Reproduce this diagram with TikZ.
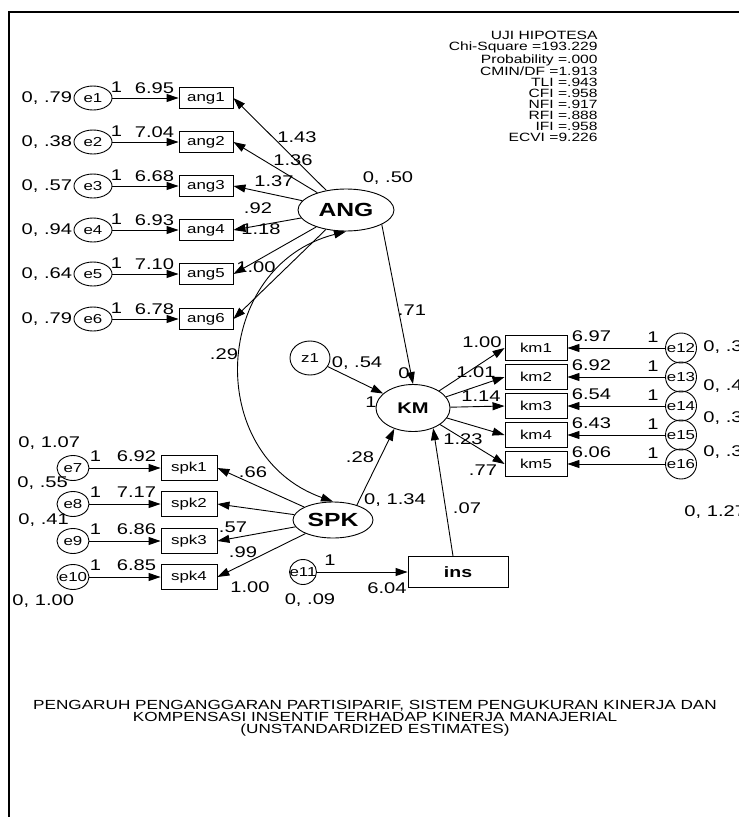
\documentclass[tikz,border=0pt]{standalone}
\usepackage{fontspec}
\setmainfont{Liberation Sans}[FakeStretch=1.3]
\usetikzlibrary{positioning, arrows.meta, shapes.geometric, calc}

\begin{document}
\begin{tikzpicture}[
		x=1pt, y=-1pt,
		>={Triangle[length=12pt, width=8pt]},
		line width=0.9pt,
		% Style for the observed indicators
		indicator/.style={
			draw, rectangle, inner sep=0pt, minimum width=54pt, minimum height=21pt,
			font=\fontsize{13}{13}\selectfont
		},
		% Style for the error terms
		errterm/.style={
			draw, ellipse, inner sep=0pt, minimum width=38pt, minimum height=24pt,
			font=\fontsize{13}{13}\selectfont
		},
		% Style for the latent constructs
		latent/.style={draw, ellipse, fill=white, inner sep=0pt},
		% Style for the estimates
		estimate/.style={inner sep=0pt, font=\fontsize{15.5}{15.5}\selectfont},
		% Style for the notes
		note/.style={inner sep=0pt, align=center, font=\fontsize{13.2}{12}\selectfont}
		]
		
		\useasboundingbox (0,0) rectangle (739,817);
		\clip (0,0) rectangle (739,817);
		\draw[line width=2pt] (9,817) -- (9,12) -- (739,12);
		
		% ==========================================
		% 1. FIT INDICES
		% ==========================================
		\node[note, align=right, anchor=north east, font=\fontsize{12}{11}\selectfont] (fit) at (598,31) {
			UJI HIPOTESA\\ Chi-Square =193.229\\ Probability =.000\\ CMIN/DF =1.913\\ TLI =.943\\
			CFI =.958\\ NFI =.917\\ RFI =.888\\ IFI =.958\\ ECVI =9.226
		};
		
		% ==========================================
		% 2. ANG and its indicators
		% ==========================================
		\node[latent, minimum width=96pt, minimum height=42pt, font=\bfseries\fontsize{19}{19}\selectfont] (ANG) at (346,210) {ANG};
		\node[estimate] (ANG-var) at (388,178) {0, .50};
		
		\foreach \i/\y/\var/\mean/\lx/\ly/\load in {
			1/98/.79/6.95/297/137/1.43, 2/142/.38/7.04/293/160/1.36, 3/186/.57/6.68/274/181/1.37,
			4/230/.94/6.93/258/208/.92, 5/274/.64/7.10/261/229/1.18, 6/319/.79/6.78/256/267/1.00} {
			\node[indicator] (ang\i) at (206,\y) {ang\i};
			\node[errterm] (e\i) at (93,\y) {\makebox[0pt]{e\i}};
			\node[estimate, left=1pt of e\i] (e\i-var) {0, \var};
			\node[estimate] (e\i-one) at ($(e\i.east)+(4,-11)$) {1};
			\node[estimate] (ang\i-mean) at ($(ang\i.west)+(-24,-10)$) {\mean};
			\node[estimate] (ang\i-load) at (\lx,\ly) {\load};
			\draw[->] (e\i) -- (ang\i);
			\draw[->] (ANG) -- (ang\i.east);
		}
		
		% ==========================================
		% 3. KM, its disturbance and indicators
		% ==========================================
		\node[latent, minimum width=74pt, minimum height=47pt, font=\bfseries\fontsize{15.5}{15.5}\selectfont] (KM) at (413,408) {KM};
		\node[errterm, minimum width=40pt, minimum height=34pt] (z1) at (310,358) {\makebox[0pt]{z1}};
		\node[estimate] (z1-var) at (357,363) {0, .54};
		\node[estimate] (KM-int) at (404,373) {0};
		\node[estimate] (z1-one) at (371,402) {1};
		\draw[->] (z1) -- (KM);
		\draw[->] (ANG.-22) -- (KM.north);
		\node[estimate] (ANG-KM) at (412,310) {.71};
		
		\foreach \i/\y/\k/\mean/\vx/\vy/\var/\lx/\ly/\load in {
			1/348/12/6.97/703/347/.3/482/342/1.00, 2/377/13/6.92/703/386/.4/476/372/1.01,
			3/406/14/6.54/703/418/.3/481/396/1.14, 4/435/15/6.43/703/452/.3/463/439/1.23,
			5/464/16/6.06/684/512/1.27/483/470/.77} {
			\node[indicator, minimum width=62pt, minimum height=25pt] (km\i) at (536,\y) {km\i};
			\node[errterm, minimum width=31pt, minimum height=30pt] (e\k) at (681,\y) {\makebox[0pt]{e\k}};
			\node[estimate, anchor=west] (e\k-var) at (\vx,\vy) {0, \var};
			\node[estimate] (e\k-one) at ($(e\k.west)+(-12,-11)$) {1};
			\node[estimate] (km\i-mean) at ($(km\i.east)+(24,-12)$) {\mean};
			\node[estimate] (km\i-load) at (\lx,\ly) {\load};
			\draw[->] (e\k) -- (km\i);
			\draw[->] (KM) -- (km\i.west);
		}
		
		% ==========================================
		% 4. SPK and its indicators
		% ==========================================
		\node[latent, minimum width=80pt, minimum height=36pt, font=\bfseries\fontsize{19}{19}\selectfont] (SPK) at (333,520) {SPK};
		\node[estimate] (SPK-var) at (395,500) {0, 1.34};
		\draw[->] (SPK.32) -- (KM.228);
		\node[estimate] (SPK-KM) at (360,457) {.28};
		
		\foreach \i/\y/\k/\mean/\vx/\vy/\var/\lx/\ly/\load in {
			1/468/7/6.92/18/443/1.07/253/472/.66, 2/504/8/7.17/17/483/.55/233/527/.57,
			3/541/9/6.86/18/520/.41/243/552/.99, 4/577/10/6.85/12/601/1.00/250/587/1.00} {
			\node[indicator, minimum width=56pt, minimum height=25pt] (spk\i) at (189,\y) {spk\i};
			\node[errterm, minimum width=32pt, minimum height=25pt] (e\k) at (73,\y) {\makebox[0pt]{e\k}};
			\node[estimate, anchor=west] (e\k-var) at (\vx,\vy) {0, \var};
			\node[estimate] (e\k-one) at ($(e\k.east)+(6,-12)$) {1};
			\node[estimate] (spk\i-mean) at ($(spk\i.west)+(-24,-12)$) {\mean};
			\node[estimate] (spk\i-load) at (\lx,\ly) {\load};
			\draw[->] (e\k) -- (spk\i);
			\draw[->] (SPK) -- (spk\i.east);
		}
		
		% Covariance ANG <-> SPK
		\draw[<->] (ANG.south) .. controls (212,266) and (203,455) .. (SPK.north);
		\node[estimate] (ANG-SPK) at (224,354) {.29};
		
		% ==========================================
		% 5. INS
		% ==========================================
		\node[draw, inner sep=0pt, minimum width=100pt, minimum height=31pt, font=\bfseries\fontsize{15}{15}\selectfont] (ins) at (458,572) {ins};
		\node[errterm, minimum width=27pt, minimum height=25pt] (e11) at (303,572) {\makebox[0pt]{e11}};
		\node[estimate] (e11-one) at (330,560) {1};
		\node[estimate] (ins-mean) at (387,588) {6.04};
		\node[estimate] (e11-var) at (310,600) {0, .09};
		\draw[->] (e11) -- (ins);
		\draw[->] ([xshift=-5pt]ins.north) -- (KM.315);
		\node[estimate] (ins-KM) at (467,508) {.07};
		
		% ==========================================
		% 6. TITLE
		% ==========================================
		\node[note] (title) at (375,718) {
			PENGARUH PENGANGGARAN PARTISIPARIF, SISTEM PENGUKURAN KINERJA DAN\\
			KOMPENSASI INSENTIF TERHADAP KINERJA MANAJERIAL\\
			(UNSTANDARDIZED ESTIMATES)
		};
		
	\end{tikzpicture}
\end{document}
